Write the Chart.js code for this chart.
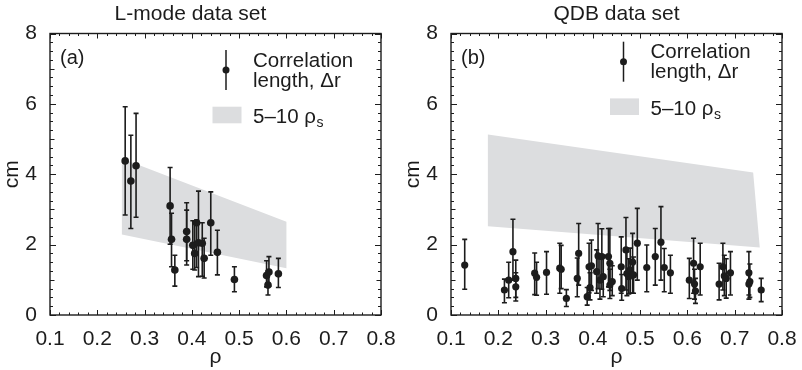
<!DOCTYPE html>
<html>
<head>
<meta charset="utf-8">
<script src="https://cdn.jsdelivr.net/npm/chart.js@4.4.1/dist/chart.umd.min.js"></script>
<style>
  body { margin: 0; background: #fff; }
  #wrap { position: relative; width: 802px; height: 370px; }
  canvas { position: absolute; top: 0; }
</style>
</head>
<body>
<div id="wrap">
  <canvas id="lmodeChart" width="401" height="370" style="left:0"></canvas>
  <canvas id="qdbChart" width="401" height="370" style="left:401px"></canvas>
</div>
<script>
// ---------------- data: (a) L-mode data set ----------------
const lmodeRho = [0.259, 0.271, 0.282, 0.354, 0.357, 0.364, 0.389, 0.389, 0.402, 0.406, 0.410,
                  0.414, 0.422, 0.426, 0.440, 0.454, 0.490, 0.558, 0.561, 0.563, 0.583];
const lmodeDr  = [4.38, 3.81, 4.24, 3.10, 2.15, 1.28, 2.37, 2.15, 1.98, 1.75, 2.62,
                  2.05, 2.04, 1.61, 2.62, 1.78, 1.01, 1.12, 0.85, 1.22, 1.17];
const lmodeHi  = [5.92, 5.11, 5.73, 4.19, 2.89, 1.70, 3.19, 2.98, 2.68, 2.66, 2.70,
                  3.52, 2.62, 2.18, 3.50, 2.41, 1.37, 1.54, 1.25, 1.66, 1.61];
const lmodeLo  = [2.84, 2.46, 2.78, 2.01, 1.37, 0.82, 1.42, 1.54, 1.30, 1.28, 1.35,
                  1.09, 1.10, 1.05, 1.70, 1.14, 0.66, 0.80, 0.57, 0.82, 0.78];
// 5-10 rho_s band corners
const lmodeBandRho = [0.252, 0.600, 0.600, 0.252];
const lmodeBandCm  = [4.45, 2.65, 1.33, 2.29];

// ---------------- data: (b) QDB data set ----------------
const qdbRho = [0.129, 0.213, 0.222, 0.231, 0.237, 0.237, 0.277, 0.281, 0.302, 0.330, 0.333,
                0.344, 0.367, 0.370, 0.388, 0.392, 0.394, 0.397, 0.408, 0.411, 0.415,
                0.419, 0.422, 0.433, 0.436, 0.436, 0.441, 0.460, 0.461, 0.470, 0.472,
                0.476, 0.479, 0.484, 0.486, 0.494, 0.514, 0.532, 0.544, 0.551, 0.564,
                0.604, 0.613, 0.615, 0.617, 0.627, 0.667, 0.675, 0.678, 0.682, 0.691,
                0.730, 0.730, 0.732, 0.756];
const qdbDr  = [1.42, 0.71, 0.99, 1.80, 1.04, 0.80, 1.19, 1.07, 1.21, 1.33, 1.30,
                0.47, 1.04, 1.75, 0.52, 1.37, 0.78, 1.40, 1.23, 1.68, 0.99,
                1.66, 1.09, 1.66, 1.47, 0.85, 0.95, 1.37, 0.75, 1.85, 1.18,
                1.09, 1.28, 1.50, 1.14, 2.04, 1.35, 1.66, 2.07, 1.35, 1.20,
                0.99, 1.47, 0.88, 0.68, 1.37, 0.88, 1.37, 1.11, 1.04, 1.20,
                1.20, 0.88, 0.95, 0.71];
const qdbHi  = [2.15, 1.02, 1.50, 2.72, 1.56, 1.20, 1.76, 1.50, 1.80, 2.04, 1.98,
                0.72, 1.62, 2.60, 0.78, 2.04, 1.20, 2.13, 1.85, 2.60, 1.60,
                2.45, 1.70, 2.46, 2.46, 1.30, 1.40, 2.22, 1.15, 2.77, 1.80,
                1.60, 1.90, 2.32, 1.65, 3.03, 1.99, 2.46, 3.08, 1.89, 1.70,
                1.61, 2.18, 1.30, 1.04, 2.04, 1.47, 2.04, 1.70, 1.60, 1.80,
                1.80, 1.25, 1.45, 1.04];
const qdbLo  = [0.73, 0.35, 0.49, 0.99, 0.50, 0.40, 0.58, 0.56, 0.59, 0.62, 0.75,
                0.24, 0.52, 0.85, 0.28, 0.63, 0.43, 0.70, 0.62, 0.75, 0.45,
                0.73, 0.52, 0.80, 0.70, 0.47, 0.55, 0.62, 0.42, 0.71, 0.55,
                0.60, 0.62, 0.62, 0.62, 0.99, 0.66, 0.85, 0.99, 0.66, 0.62,
                0.47, 0.62, 0.45, 0.33, 0.57, 0.43, 0.71, 0.55, 0.48, 0.57,
                0.57, 0.45, 0.50, 0.38];
const qdbBandRho = [0.178, 0.739, 0.753, 0.178];
const qdbBandCm  = [5.13, 4.05, 1.92, 2.52];

const FONT = "'Liberation Sans', Arial, Helvetica, sans-serif";
const INK = '#1c1c1c';
const BAND = '#dcdddf';

// error bars drawn just before the points, through the chart scales
const errorBars = {
  id: 'errorBars',
  beforeDatasetDraw(chart, args) {
    const ds = chart.data.datasets[args.index];
    if (!ds.errorBars) return;
    const xs = chart.scales.x, ys = chart.scales.y, ctx = chart.ctx;
    ctx.save();
    ctx.strokeStyle = INK;
    ctx.lineWidth = 1.6;
    ds.data.forEach(p => {
      const x = xs.getPixelForValue(p.x);
      const y1 = ys.getPixelForValue(p.yMax);
      const y2 = ys.getPixelForValue(p.yMin);
      ctx.beginPath();
      ctx.moveTo(x, y1); ctx.lineTo(x, y2);
      ctx.moveTo(x - 2.5, y1); ctx.lineTo(x + 2.5, y1);
      ctx.moveTo(x - 2.5, y2); ctx.lineTo(x + 2.5, y2);
      ctx.stroke();
    });
    ctx.restore();
  }
};

// box frame with inward ticks on all four sides
const frameTicks = {
  id: 'frameTicks',
  afterDraw(chart) {
    const {ctx, chartArea: a} = chart;
    const xs = chart.scales.x, ys = chart.scales.y;
    ctx.save();
    ctx.strokeStyle = INK;
    ctx.lineWidth = 1.4;
    ctx.strokeRect(a.left, a.top, a.right - a.left, a.bottom - a.top);
    ctx.lineWidth = 1;
    ctx.beginPath();
    for (let k = 5; k <= 40; k++) {
      const x = Math.round(xs.getPixelForValue(k * 0.02)) + 0.5;
      const len = k % 5 === 0 ? 5 : 2.5;
      ctx.moveTo(x, a.bottom); ctx.lineTo(x, a.bottom - len);
      ctx.moveTo(x, a.top); ctx.lineTo(x, a.top + len);
    }
    for (let k = 0; k <= 32; k++) {
      const y = Math.round(ys.getPixelForValue(k * 0.25)) + 0.5;
      const len = k % 8 === 0 ? 6 : (k % 4 === 0 ? 4.5 : 3);
      ctx.moveTo(a.left, y); ctx.lineTo(a.left + len, y);
      ctx.moveTo(a.right, y); ctx.lineTo(a.right - len, y);
    }
    ctx.stroke();
    ctx.restore();
  }
};

// panel letter and legend box
const panelLegend = {
  id: 'panelLegend',
  afterDraw(chart, args, opts) {
    const {ctx, chartArea: a} = chart;
    const ox = a.left + opts.ox, oy = a.top + opts.oy;
    ctx.save();
    ctx.fillStyle = INK;
    ctx.font = '20px ' + FONT;
    ctx.textBaseline = 'alphabetic';
    ctx.fillText(opts.tag, a.left + 10, a.top + 30);
    // error bar symbol
    ctx.strokeStyle = INK;
    ctx.lineWidth = 1.5;
    ctx.beginPath();
    ctx.moveTo(ox, oy - 20); ctx.lineTo(ox, oy + 20);
    ctx.stroke();
    ctx.beginPath();
    ctx.arc(ox, oy, 3.5, 0, Math.PI * 2);
    ctx.fill();
    ctx.font = '20.5px ' + FONT;
    ctx.fillText('Correlation', ox + 27, oy - 3.3);
    ctx.fillText('length, \u0394r', ox + 27, oy + 16.7);
    // band symbol
    ctx.fillStyle = BAND;
    ctx.fillRect(ox - 13.5, oy + 36.7, 29, 16.6);
    ctx.fillStyle = INK;
    const t = '5\u201310 \u03c1';
    ctx.fillText(t, ox + 27, oy + 53.3);
    const w = ctx.measureText(t).width;
    ctx.font = '14px ' + FONT;
    ctx.fillText('s', ox + 27 + w + 0.5, oy + 57);
    ctx.restore();
  }
};

function makeChart(id, title, rho, dr, hi, lo, bandRho, bandCm, legendPos, titleFull, radius) {
  const points = rho.map((r, i) => ({x: r, y: dr[i], yMax: hi[i], yMin: lo[i]}));
  const band = bandRho.map((r, i) => ({x: r, y: bandCm[i]}));
  return new Chart(document.getElementById(id), {
    type: 'scatter',
    data: {
      datasets: [{
        data: band,
        order: 2,
        showLine: true,
        fill: 'shape',
        backgroundColor: BAND,
        borderWidth: 0,
        pointRadius: 0,
        tension: 0
      }, {
        data: points,
        order: 1,
        errorBars: true,
        pointRadius: radius,
        pointBackgroundColor: INK,
        pointBorderWidth: 0
      }]
    },
    options: {
      responsive: false,
      animation: false,
      devicePixelRatio: 1,
      layout: {padding: {right: 20, left: 0, bottom: 0}},
      plugins: {
        legend: {display: false},
        tooltip: {enabled: false},
        title: {
          display: true,
          text: title,
          fullSize: titleFull,
          color: INK,
          font: {family: FONT, size: 21, weight: 'normal'},
          padding: {top: 2, bottom: 6.3}
        },
        panelLegend: legendPos
      },
      scales: {
        x: {
          type: 'linear',
          min: 0.1, max: 0.8,
          grid: {display: false},
          border: {display: false},
          ticks: {
            stepSize: 0.1,
            color: INK,
            padding: 4,
            font: {family: FONT, size: 21},
            callback: v => v.toFixed(1)
          },
          title: {display: true, text: '\u03c1', color: INK, padding: {top: 0, bottom: 0},
                  font: {family: FONT, size: 21}},
          afterFit: s => { s.height = 55; }
        },
        y: {
          min: 0, max: 8,
          grid: {display: false},
          border: {display: false},
          ticks: {
            stepSize: 2,
            color: INK,
            padding: 5,
            font: {family: FONT, size: 21}
          },
          title: {display: true, text: 'cm', color: INK, padding: {top: 0, bottom: 3},
                  font: {family: FONT, size: 21}},
          afterFit: s => { s.width = 50; }
        }
      }
    },
    plugins: [errorBars, frameTicks, panelLegend]
  });
}

makeChart('lmodeChart', 'L-mode data set', lmodeRho, lmodeDr, lmodeHi, lmodeLo,
          lmodeBandRho, lmodeBandCm, {tag: '(a)', ox: 176, oy: 36.5}, true, 3.8);
makeChart('qdbChart', 'QDB data set', qdbRho, qdbDr, qdbHi, qdbLo,
          qdbBandRho, qdbBandCm, {tag: '(b)', ox: 172.5, oy: 28.2}, false, 3.6);
</script>
</body>
</html>
